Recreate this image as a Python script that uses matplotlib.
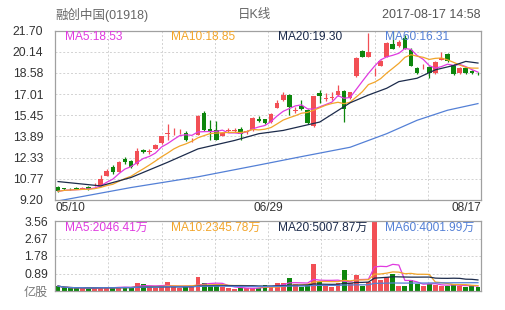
import numpy as np
import pandas as pd
import matplotlib
matplotlib.use("Agg")
import matplotlib.pyplot as plt

plt.rcParams['font.family'] = ['Liberation Sans', 'Noto Sans CJK SC', 'DejaVu Sans']

# daily candles 05/10 .. 08/17
opens = [10.17, 10.05, 10.02, 10.09, 10.05, 10.19, 10.29, 10.24, 10.99, 11.60,
         11.28, 12.22, 12.10, 11.86, 12.92, 12.77, 12.97, 13.39, 14.08, 14.20,
         14.20, 14.11, 13.62, 14.02, 15.62, 14.41, 14.39, 13.93, 14.30, 14.30,
         14.46, 14.22, 14.33, 15.15, 15.15, 14.93, 15.97, 16.57, 16.94, 15.80,
         16.12, 15.82, 14.63, 17.09, 16.68, 16.75, 16.94, 17.24, 16.72, 18.35,
         20.21, 19.77, 18.55, 19.10, 19.77, 20.73, 20.58, 21.18, 20.29, 18.95,
         18.92, 19.02, 18.58, 19.54, 19.99, 19.17, 18.58, 18.95, 18.72, 18.60]
highs = [10.22, 10.10, 10.08, 10.14, 10.16, 10.24, 10.42, 11.05, 11.45, 11.75,
         12.10, 12.40, 12.15, 13.05, 12.97, 12.95, 13.35, 13.95, 14.78, 14.48,
         14.45, 14.30, 13.80, 15.45, 15.75, 15.08, 15.00, 14.20, 14.50, 14.48,
         14.55, 14.35, 15.30, 15.42, 15.20, 15.60, 16.57, 17.16, 17.00, 16.05,
         16.57, 15.90, 16.90, 17.30, 17.10, 17.16, 17.68, 17.30, 17.20, 19.75,
         20.25, 21.48, 18.95, 19.55, 20.88, 21.70, 21.00, 21.40, 20.40, 19.00,
         19.25, 19.10, 19.45, 20.14, 20.05, 19.20, 19.00, 19.00, 18.78, 18.65]
lows = [9.80, 9.95, 9.94, 9.98, 10.00, 9.96, 10.22, 10.20, 10.95, 11.15,
        11.25, 11.86, 11.55, 11.80, 12.68, 12.62, 12.93, 13.35, 13.59, 14.00,
        14.05, 13.55, 13.45, 13.98, 14.30, 13.59, 13.60, 13.90, 14.20, 14.18,
        13.59, 14.05, 14.30, 14.93, 14.80, 14.90, 15.95, 16.50, 15.45, 15.60,
        15.85, 14.80, 14.55, 16.34, 16.50, 16.60, 16.90, 14.93, 16.65, 18.30,
        19.72, 19.72, 18.35, 19.05, 19.72, 20.30, 20.50, 20.30, 19.05, 18.50,
        18.85, 18.20, 18.50, 19.50, 19.40, 18.40, 18.50, 18.50, 18.50, 18.40]
closes = [9.84, 9.98, 9.99, 10.03, 10.08, 10.00, 10.32, 10.77, 11.36, 11.23,
          12.03, 12.03, 11.66, 12.85, 12.72, 12.80, 13.27, 13.89, 14.11, 14.24,
          14.24, 13.59, 13.66, 15.38, 14.33, 14.29, 13.64, 14.13, 14.34, 14.34,
          14.08, 14.26, 15.23, 15.05, 14.86, 15.52, 16.34, 16.94, 16.05, 15.85,
          15.90, 14.86, 16.86, 16.86, 16.72, 16.79, 17.24, 15.90, 17.16, 19.69,
          19.77, 20.14, 18.58, 19.47, 20.81, 20.36, 20.88, 20.36, 19.10, 18.58,
          18.95, 18.58, 19.39, 19.69, 19.47, 18.50, 18.95, 18.58, 18.58, 18.55]
# volume in 亿股
volumes = [0.25, 0.14, 0.14, 0.14, 0.17, 0.10, 0.17, 0.22, 0.17, 0.17,
           0.20, 0.22, 0.17, 0.39, 0.37, 0.20, 0.17, 0.25, 0.46, 0.20,
           0.14, 0.22, 0.25, 0.71, 0.42, 0.31, 0.31, 0.20, 0.14, 0.08,
           0.17, 0.14, 0.17, 0.17, 0.31, 0.27, 0.39, 0.42, 0.68, 0.36,
           0.22, 0.34, 1.37, 0.47, 0.31, 0.22, 0.39, 1.07, 0.39, 0.81,
           0.27, 0.44, 4.20, 0.56, 0.73, 0.85, 0.27, 0.27, 0.56, 0.36,
           0.27, 0.36, 0.31, 0.27, 0.27, 0.36, 0.25, 0.22, 0.25, 0.18]

ma20_idx = [0, 7, 12, 18, 23, 29, 33, 37, 43, 48, 51, 54, 56, 59, 62, 65, 67, 69]
ma20_val = [10.56, 10.24, 10.86, 11.98, 12.97, 13.59, 14.09, 14.33, 14.95, 16.37,
            16.94, 17.44, 17.93, 18.18, 18.80, 19.12, 19.42, 19.30]
ma60_idx = [0, 12, 23, 33, 40, 48, 54, 59, 64, 69]
ma60_val = [9.13, 10.12, 10.91, 11.78, 12.40, 13.09, 14.09, 15.08, 15.82, 16.31]

price_ticks = [9.20, 10.77, 12.33, 13.89, 15.45, 17.01, 18.58, 20.14, 21.70]
vol_ticks = [0, 0.89, 1.78, 2.67, 3.56]
vol_ticklabels = ['亿股', '0.89', '1.78', '2.67', '3.56']
date_labels = ['05/10', '06/29', '08/17']

ma_labels = ['MA5:18.53', 'MA10:18.85', 'MA20:19.30', 'MA60:16.31']
vol_ma_labels = ['MA5:2046.41万', 'MA10:2345.78万', 'MA20:5007.87万', 'MA60:4001.99万']

RED = '#f24f55'
GREEN = '#0d860d'
MA_COLORS = ['#e03ae0', '#f2a52a', '#1c2b4b', '#5480d6']
GRID = '#d2d2d2'
FRAME = '#a0a0a0'

n = len(closes)
x = np.arange(n)
o = np.array(opens)
c = np.array(closes)
up = c >= o
colors = np.where(up, RED, GREEN)

close_s = pd.Series(closes)
ma5 = close_s.rolling(5, min_periods=1).mean()
ma10 = close_s.rolling(10, min_periods=1).mean()
vol_s = pd.Series(volumes)
vma = [vol_s.rolling(w, min_periods=1).mean() for w in (5, 10, 20, 60)]

W, H = 505, 310
fig = plt.figure(figsize=(W / 100, H / 100), dpi=100)
ax = fig.add_axes([55 / W, 1 - 200 / H, 426 / W, 169.5 / H])
axv = fig.add_axes([55 / W, 1 - 291 / H, 426 / W, 70 / H])

xlim = (-0.5, n - 0.5)
for a in (ax, axv):
    a.set_xlim(*xlim)
    for sp in a.spines.values():
        sp.set_color(FRAME)
        sp.set_linewidth(0.9)
    a.set_xticks([])
    a.tick_params(axis='y', length=0, labelsize=8.7, labelcolor='#333333')
    for k in range(1, 8):
        a.axvline(xlim[0] + (xlim[1] - xlim[0]) * k / 8, color=GRID,
                  lw=0.7, dashes=(2, 2), zorder=0)

# price panel
ax.set_ylim(price_ticks[0], price_ticks[-1])
ax.set_yticks(price_ticks)
ax.set_yticklabels(['%.2f' % t for t in price_ticks])
ax.tick_params(axis='y', pad=8.5)
for t in price_ticks[1:-1]:
    ax.axhline(t, color=GRID, lw=0.7, dashes=(2, 2), zorder=0)

ax.vlines(x, lows, highs, colors=colors, lw=0.9, zorder=2)
flat = np.abs(c - o) < 0.04
body_h = np.where(flat, 0.04, np.abs(c - o))
body_b = np.where(flat, (o + c) / 2 - 0.02, np.minimum(o, c))
ax.bar(x, body_h, bottom=body_b, width=0.76, color=colors, zorder=3)

ax.plot(x, ma5, color=MA_COLORS[0], lw=0.9, zorder=4)
ax.plot(x, ma10, color=MA_COLORS[1], lw=0.9, zorder=4)
ax.plot(ma20_idx, ma20_val, color=MA_COLORS[2], lw=0.9, zorder=4)
ax.plot(ma60_idx, ma60_val, color=MA_COLORS[3], lw=0.9, zorder=4)

for k, (lab, col) in enumerate(zip(ma_labels, MA_COLORS)):
    ax.text((10 + k * 106.5) / 426, 1 - 6 / 169.5, lab, transform=ax.transAxes,
            color=col, fontsize=8.6, va='center', ha='left', zorder=5)

# date labels under the price panel
ax.text(0, -8 / 169.5, date_labels[0], transform=ax.transAxes, ha='left',
        va='center', fontsize=8.6, color='#333333')
ax.text(0.5, -8 / 169.5, date_labels[1], transform=ax.transAxes, ha='center',
        va='center', fontsize=8.6, color='#333333')
ax.text(1, -8 / 169.5, date_labels[2], transform=ax.transAxes, ha='right',
        va='center', fontsize=8.6, color='#333333')

# volume panel
axv.set_ylim(vol_ticks[0], vol_ticks[-1])
axv.set_yticks(vol_ticks)
axv.set_yticklabels(vol_ticklabels)
axv.tick_params(axis='y', pad=5)
axv.get_yticklabels()[0].set_color('#777777')
for t in vol_ticks[1:-1]:
    axv.axhline(t, color=GRID, lw=0.7, dashes=(2, 2), zorder=0)
axv.bar(x, volumes, width=0.8, color=colors, zorder=2)
for m, col in zip(vma, MA_COLORS):
    axv.plot(x, m, color=col, lw=0.9, zorder=3)
for k, (lab, col) in enumerate(zip(vol_ma_labels, MA_COLORS)):
    axv.text((10 + k * 106.5) / 426, 1 - 7 / 70, lab, transform=axv.transAxes,
             color=col, fontsize=8.6, va='center', ha='left', zorder=5)

# header
fig.text(55 / W, 1 - 15 / H, '融创中国(01918)', fontsize=9, color='#666666',
         va='center', ha='left')
fig.text(238 / W, 1 - 15 / H, '日K线', fontsize=9, color='#666666',
         va='center', ha='left')
fig.text(481 / W, 1 - 15 / H, '2017-08-17 14:58', fontsize=9, color='#555555',
         va='center', ha='right')

fig.savefig('out.png', dpi=100, facecolor='white')
